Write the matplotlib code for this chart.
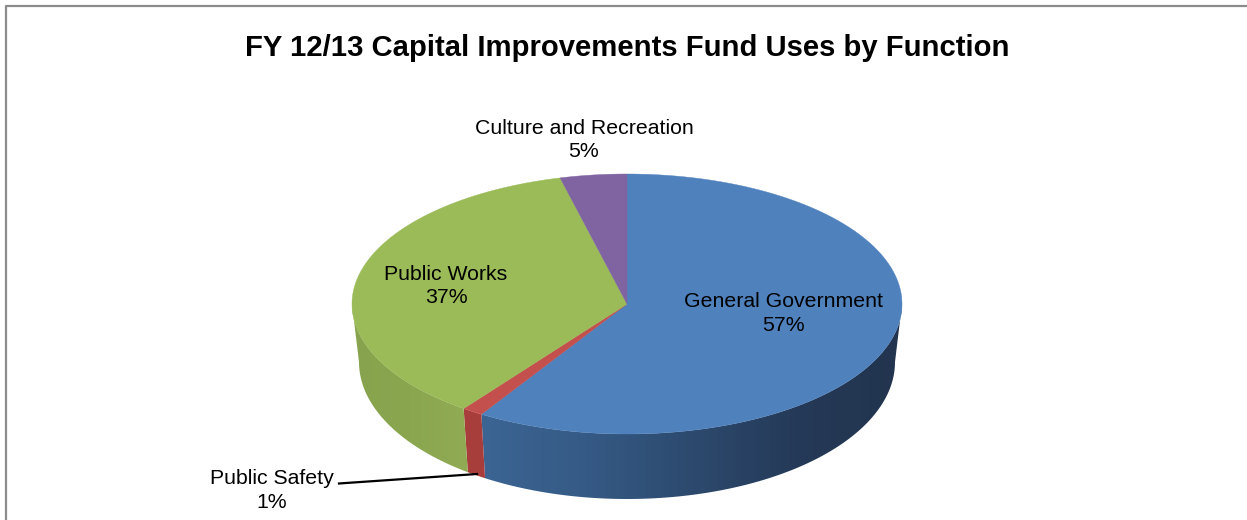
import numpy as np
import matplotlib
matplotlib.use("Agg")
import matplotlib.pyplot as plt
from matplotlib.colors import LinearSegmentedColormap
from matplotlib.patches import Polygon

TITLE = "FY 12/13 Capital Improvements Fund Uses by Function"
CATEGORIES = ["General Government", "Public Safety", "Public Works", "Culture and Recreation"]
PERCENTS = [57, 1, 37, 5]

TOP_COLORS = ["#4f81bd", "#c4504d", "#9bbb59", "#8064a2"]
SIDE_COLORS = [
    ["#3c6594", "#355a85", "#2d4a6e", "#253a58", "#22344e"],
    ["#a83e3c", "#a83e3c"],
    ["#87a34d", "#8aa64f", "#90ab54"],
    ["#6a5388", "#6a5388"],
]

# label centres in pixels
LABEL_POS = [(783, 313.5), (272, 490.5), (446, 286), (584, 140)]

WIDTH, HEIGHT = 1247, 520
# top face and the slightly narrower bottom rim of the disc
CX, CY, RX, RY = 627, 304, 275, 130
CX2, CY2, RX2, RY2 = 627, 362, 268, 137
# foreshortening of the tilted disc, near slices look wider
PERSPECTIVE = 0.78


def view_angle(a):
    a = np.asarray(a, dtype=float)
    half = np.arctan2(PERSPECTIVE * np.sin(a / 2), np.cos(a / 2))
    return np.mod(2 * half, 2 * np.pi * (1 + 1e-9))


def rim(t, cx, cy, rx, ry):
    return cx + rx * np.sin(t), cy - ry * np.cos(t)


def draw_side(ax, t0, t1, colors):
    t = np.linspace(t0, t1, 120)
    x1, y1 = rim(t, CX, CY, RX, RY)
    x2, y2 = rim(t, CX2, CY2, RX2, RY2)
    pts = np.column_stack([np.r_[x1, x2[::-1]], np.r_[y1, y2[::-1]]])
    patch = Polygon(pts, closed=True, fc="none", ec="none")
    ax.add_patch(patch)
    cmap = LinearSegmentedColormap.from_list("side", colors)
    grad = np.linspace(0, 1, 256).reshape(1, -1)
    extent = (pts[:, 0].min(), pts[:, 0].max(), pts[:, 1].max(), pts[:, 1].min())
    im = ax.imshow(grad, cmap=cmap, extent=extent, aspect="auto", zorder=2)
    im.set_clip_path(patch)


def main():
    plt.rcParams["font.family"] = ["Liberation Sans", "DejaVu Sans"]
    fig = plt.figure(figsize=(WIDTH / 100, HEIGHT / 100), dpi=100)
    ax = fig.add_axes([0, 0, 1, 1])

    edges = np.cumsum([0] + PERCENTS) / sum(PERCENTS) * 2 * np.pi
    starts = [float(view_angle(e)) for e in edges[:-1]]
    ends = [float(view_angle(e)) for e in edges[1:]]
    ends[-1] = 2 * np.pi

    # side walls, only the part of the rim facing the viewer shows
    for i in range(len(PERCENTS)):
        t0 = max(starts[i], np.pi / 2)
        t1 = min(ends[i], 3 * np.pi / 2)
        if t1 > t0:
            draw_side(ax, t0, t1, SIDE_COLORS[i])

    # top face
    for i in range(len(PERCENTS)):
        t = np.linspace(starts[i], ends[i], 200)
        x, y = rim(t, CX, CY, RX, RY)
        pts = np.column_stack([np.r_[CX, x], np.r_[CY, y]])
        ax.add_patch(Polygon(pts, closed=True, fc=TOP_COLORS[i], ec=TOP_COLORS[i], lw=0.3, zorder=3))

    for name, pct, pos in zip(CATEGORIES, PERCENTS, LABEL_POS):
        ax.text(pos[0], pos[1], f"{name}\n{pct}%", ha="center", va="center",
                fontsize=15.3, linespacing=1.32, color="black", zorder=5)

    # leader line for the thin slice
    ax.plot([339, 346, 477], [483.5, 483, 474], color="black", lw=1.6, zorder=4)

    ax.text(627, 47.5, TITLE, ha="center", va="center", fontsize=21.1, fontweight="bold", zorder=5)

    # chart frame runs off the right and bottom of the image
    ax.plot([5.5, 5.5, WIDTH], [HEIGHT, 5.5, 5.5], color="#8c8c8c", lw=1.6, zorder=1)

    ax.set_xlim(0, WIDTH)
    ax.set_ylim(HEIGHT, 0)
    ax.axis("off")
    fig.savefig("out.png", dpi=100)


if __name__ == "__main__":
    main()
